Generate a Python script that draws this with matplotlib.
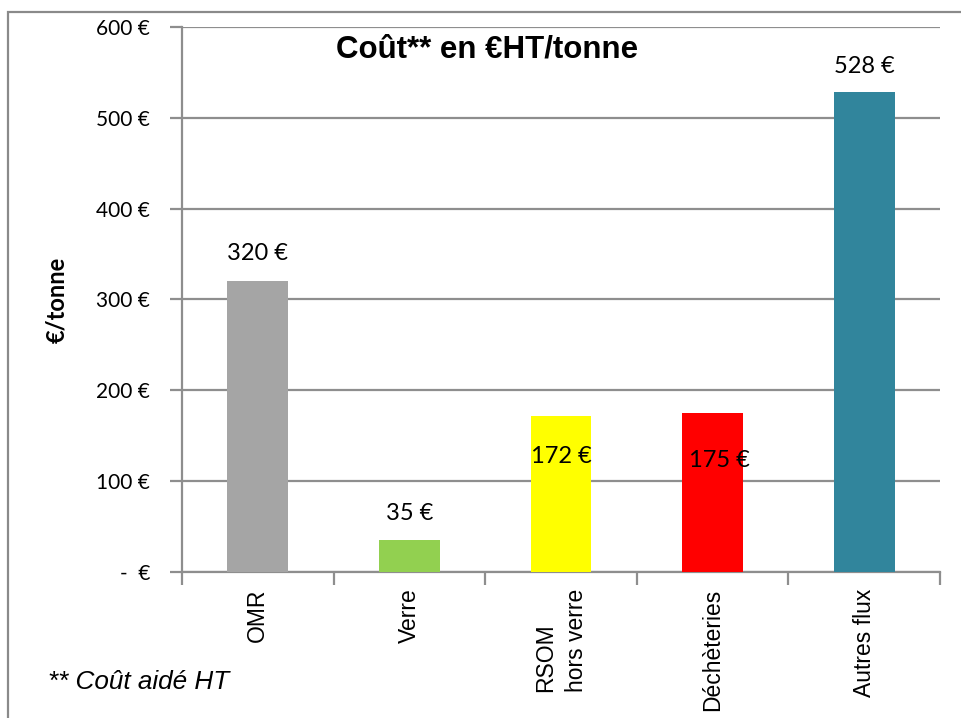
import matplotlib
matplotlib.use("Agg")
from matplotlib import pyplot as plt
from matplotlib.patches import Rectangle

categories = ["OMR", "Verre", "RSOM\nhors verre", "Déchèteries", "Autres flux"]
values = [320, 35, 172, 175, 528]
labels = ["320 €", "35 €", "172 €", "175 €", "528 €"]
colors = ["#A5A5A5", "#92D050", "#FFFF00", "#FF0000", "#31859C"]
yticks = [0, 100, 200, 300, 400, 500, 600]
ytick_labels = ["-  €", "100 €", "200 €", "300 €", "400 €", "500 €", "600 €"]

# label offsets in points (Excel put two of them inside the bars)
label_dy = [20, 19, -29, -34, 19]
label_dx = [0, 0, 0, 5, 0]

grid_col = "#8E8E8E"

fig = plt.figure(figsize=(9.62, 7.18), dpi=100)
fig.patches.append(Rectangle((8 / 962, -0.1), 1.1, 1.1 - 12 / 718,
                             transform=fig.transFigure, fill=False,
                             edgecolor="#8A8A8A", lw=1.6))
ax = fig.add_axes([182 / 962, 146 / 718, 758 / 962, 545 / 718])

x = list(range(len(values)))
ax.bar(x, values, width=0.4, color=colors, zorder=3)
ax.set_xlim(-0.5, len(values) - 0.5)
ax.set_ylim(0, 600)
ax.set_yticks(yticks)
ax.set_yticklabels(ytick_labels, fontsize=15, family="Lato")
ax.yaxis.grid(True, color=grid_col, lw=1.6, zorder=0)
ax.set_axisbelow(True)

ax.set_xticks([i + 0.5 for i in range(-1, len(values))], minor=False)
ax.set_xticklabels([])
ax.set_xticks(x, minor=True)
ax.set_xticklabels(categories, minor=True, rotation=90, fontsize=16.5,
                   family="Liberation Sans", va="top", ha="center",
                   linespacing=1.45, multialignment="left")
ax.tick_params(axis="x", which="minor", length=0, pad=12)
ax.tick_params(axis="x", which="major", length=9, width=1.6, color=grid_col)
ax.tick_params(axis="y", length=9, width=1.6, color=grid_col, pad=14)

for s in ["top", "right"]:
    ax.spines[s].set_visible(False)
for s in ["left", "bottom"]:
    ax.spines[s].set_color(grid_col)
    ax.spines[s].set_linewidth(1.6)

for i, v in enumerate(values):
    ax.annotate(labels[i], xy=(i, v), xytext=(label_dx[i], label_dy[i]),
                textcoords="offset points", ha="center", va="center",
                fontsize=17, family="Lato", zorder=4)

ax.set_ylabel("€/tonne", fontsize=17, fontweight="bold", family="Lato")
ax.yaxis.set_label_coords(-0.150, 0.5)

fig.text(487 / 962, 1 - 49 / 718, "Coût** en €HT/tonne", ha="center",
         va="center", fontsize=22.5, fontweight="bold",
         family="Liberation Sans")
fig.text(48 / 962, 1 - 682 / 718, "** Coût aidé HT", ha="left", va="center",
         fontsize=18.8, style="italic", family="Liberation Sans")

fig.savefig("out.png", dpi=100)
